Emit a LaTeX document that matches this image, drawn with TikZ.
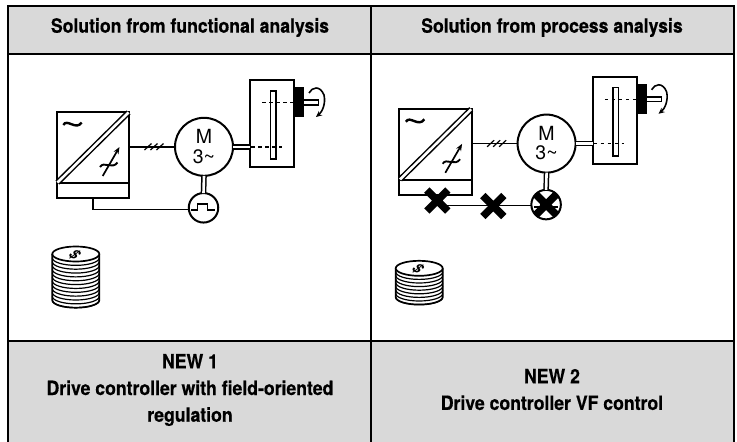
\documentclass[tikz,border=0pt]{standalone}
\usepackage{fontspec}
\setmainfont{TeX Gyre Heros}
\newfontfamily\headfont[FakeStretch=0.9,BoldFeatures={FakeStretch=0.9,FakeBold=0.5}]{TeX Gyre Heros}
\usetikzlibrary{arrows.meta,shapes.misc,shapes.geometric}
\definecolor{cellgray}{HTML}{D9D9D9}
\tikzset{
  x=1pt,y=1pt,
  rule/.style={draw=black,line width=2pt},
  cellgrey/.style={fill=cellgray},
  head/.style={font=\headfont\bfseries\fontsize{19.6}{26.7}\selectfont,align=center,text=black,inner sep=0pt},
  part/.style={draw=black,line width=2pt,inner sep=0pt,outer sep=0pt,rectangle},
  wheel/.style={draw=black,line width=2pt,circle,inner sep=0pt,outer sep=0pt,fill=white},
  wire/.style={draw=black,line width=1.6pt},
  twin/.style={draw=black,line width=1.5pt,double=white,double distance=2.6pt},
  hidden/.style={draw=black,line width=1.4pt,dash pattern=on 3.5pt off 3.5pt},
  bigcross/.style={cross out,draw=black,line width=7.5pt,minimum size=21pt,inner sep=0pt,outer sep=0pt}
}
\newcommand{\drivesys}[3]{%
 \begin{scope}[shift={(#2,#3)}]
  \node[part,minimum width=72.6pt,minimum height=71.6pt] (#1conv) at (93,-147.5) {};
  \node[part,minimum width=72.6pt,minimum height=14.4pt] (#1ctrl) at (93,-190.5) {};
  \node[wheel,minimum size=58pt] (#1motor) at (204,-146.8) {};
  \node[wheel,minimum size=29.5pt] (#1enc) at (203.5,-207.8) {};
  \node[part,minimum width=44pt,minimum height=87pt] (#1gear) at (272.3,-123.8) {};
  \node[part,line width=1.6pt,minimum width=5.4pt,minimum height=68.4pt] (#1disc) at (273.3,-124.9) {};
  \node[part,fill=black,minimum width=9pt,minimum height=28.4pt] (#1brake) at (298.8,-101.9) {};
  \node[part,line width=1.5pt,fill=white,minimum width=15.4pt,minimum height=4.7pt,anchor=west] (#1shaft) at (#1brake.east |- 0,-102.4) {};
  \draw[line width=1.5pt,double=white,double distance=2.6pt,shorten >=1pt,shorten <=1pt] (#1conv.south west) -- (#1conv.north east);
  \draw[line width=2.4pt] (63.3,-125) .. controls (67,-118) and (76,-131) .. (81.7,-122.5);
  \draw[line width=1.9pt] (100,-167) .. controls (104,-160.5) and (112,-170) .. (117.5,-162.5);
  \draw[line width=1.7pt,-{Stealth[length=7pt,width=5.5pt]}] (102.7,-176) -- (119.5,-147);
  \draw[wire] (#1motor.west -| #1conv.east) -- (#1motor.west);
  \foreach \sx in {148,154,160}{\draw[line width=1.2pt] (\sx-3.5,-150) -- (\sx+3.5,-143.5);}
  \draw[twin] (#1motor.east) -- (#1motor.east -| #1gear.west);
  \draw[twin] (#1motor.south) -- (#1enc.north);
  \draw[hidden] (251,-146.8) -- (281.7,-146.8);
  \draw[hidden] (262.3,-102.7) -- (293.5,-102.7);
  \draw[line width=1.6pt,-{Stealth[length=6pt,width=5.5pt]}] (309,-93) .. controls (312,-87) and (320,-85) .. (324,-95) .. controls (326,-104) and (322,-112) .. (316,-117);
  \node[anchor=base,inner sep=0pt,font=\fontsize{19.5}{20}\selectfont] (#1mlabel) at (204,-143.3) {M};
  \node[anchor=base,inner sep=0pt,font=\fontsize{19.5}{20}\selectfont] (#1plabel) at (204,-163) {3\textasciitilde};
  \draw[line width=1.5pt] (191,-210) -- (197.7,-210) -- (197.7,-204) -- (207.7,-204) -- (207.7,-210) -- (215,-210);
 \end{scope}
}
\newcommand{\coinstack}[5]{%
 \pgfmathsetmacro{\cbot}{#3-#4*#5}
 \draw[line width=1.7pt,fill=white] (#2-23.5,#3) -- (#2-23.5,\cbot) arc[start angle=180,end angle=360,x radius=23.5,y radius=7.5] -- (#2+23.5,#3);
 \foreach \k in {1,...,#4}{
   \pgfmathsetmacro{\cy}{#3-\k*#5}
   \draw[line width=1.2pt] (#2-23.5,\cy) arc[start angle=180,end angle=360,x radius=23.5,y radius=7.5];
 }
 \node[draw=black,line width=1.7pt,fill=white,ellipse,inner sep=0pt,outer sep=0pt,minimum width=47pt,minimum height=15pt] (#1) at (#2,#3) {};
 \node[rotate=-35,xslant=.35,inner sep=0pt,font=\bfseries\fontsize{14}{14}\selectfont] (#1d) at (#2-1,#3-.5) {\$};
}
\begin{document}
\begin{tikzpicture}
\useasboundingbox (0,0) rectangle (737,-442);
\fill[white] (0,0) rectangle (737,-442);
\fill[cellgrey] (7.5,-6) rectangle (733.5,-53.5);
\fill[cellgrey] (7.5,-340.7) rectangle (733.5,-443);
\draw[rule] (7.5,-443) -- (7.5,-6) -- (733.5,-6) -- (733.5,-443);
\draw[rule] (371.3,-6) -- (371.3,-443);
\draw[rule] (7.5,-53.5) -- (733.5,-53.5);
\draw[rule] (7.5,-340.7) -- (733.5,-340.7);
\node[head] (h1) at (190,-27.5) {Solution from functional analysis};
\node[head] (h2) at (552,-27.5) {Solution from process analysis};
\node[head] (f1) at (190,-390) {NEW 1\\Drive controller with field-oriented\\regulation};
\node[head] (f2) at (552,-389.5) {NEW 2\\Drive controller VF control};
\drivesys{a}{0}{0}
\draw[wire] (actrl.south) |- ([yshift=-1.5pt]aenc.west);
\coinstack{acoin}{75.8}{-254}{12}{3.85}
\drivesys{b}{342.6}{3.2}
\draw[wire] (bctrl.south) |- ([yshift=-.8pt]benc.west);
\node[bigcross] (x1) at (437.3,-200.5) {};
\node[bigcross] (x2) at (493.3,-206) {};
\node[bigcross] (x3) at (benc.center) {};
\coinstack{bcoin}{419.2}{-268.3}{8}{3.6}
\end{tikzpicture}
\end{document}
